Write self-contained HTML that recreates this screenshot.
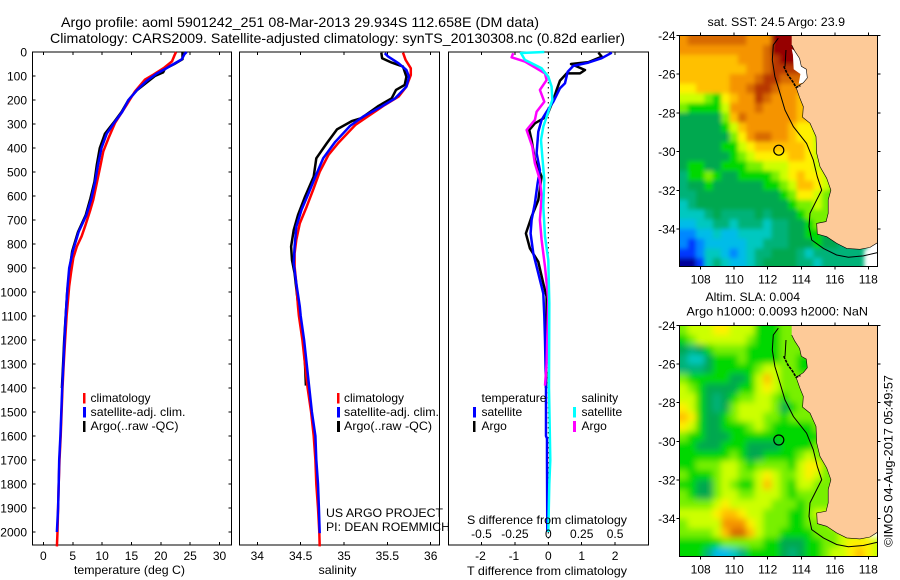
<!DOCTYPE html>
<html>
<head>
<meta charset="utf-8">
<title>Argo profile</title>
<style>
html,body{margin:0;padding:0;background:#fff;}
svg{display:block;}
text{font-family:"Liberation Sans",sans-serif;font-size:12px;fill:#000;}
.t14{font-size:14px;}
</style>
</head>
<body>
<svg id="chart" xmlns="http://www.w3.org/2000/svg" width="900" height="580" viewBox="0 0 900 580">
<defs>
<clipPath id="clip-sst"><rect x="679.3" y="35.3" width="198" height="231"/></clipPath>
<clipPath id="clip-sla"><rect x="679.3" y="325.3" width="198" height="231.4"/></clipPath>
<filter id="blur-sst" x="-10%" y="-10%" width="120%" height="120%"><feGaussianBlur stdDeviation="2.2"/></filter>
<filter id="blur-sla" x="-10%" y="-10%" width="120%" height="120%"><feGaussianBlur stdDeviation="3.2"/></filter>
</defs>
<text class="t14" x="61" y="27" textLength="478" lengthAdjust="spacingAndGlyphs">Argo profile: aoml 5901242_251 08-Mar-2013 29.934S 112.658E (DM data)</text>
<text class="t14" x="50" y="43" textLength="575" lengthAdjust="spacingAndGlyphs">Climatology: CARS2009. Satellite-adjusted climatology: synTS_20130308.nc (0.82d earlier)</text>

<g id="p1"></g>
<g id="p2"></g>
<g id="p3"></g>
<g id="m1"></g>
<g id="m2"></g>
<g id="labels"></g>

<text x="74" y="574" textLength="111" lengthAdjust="spacingAndGlyphs">temperature (deg C)</text>
<text x="318.5" y="574" textLength="38" lengthAdjust="spacingAndGlyphs">salinity</text>
<text x="467" y="575" textLength="160" lengthAdjust="spacingAndGlyphs">T difference from climatology</text>
<text x="467" y="524" textLength="160" lengthAdjust="spacingAndGlyphs">S difference from climatology</text>

<g>
<rect x="83" y="393" width="2.5" height="10.5" fill="#f00"/>
<rect x="83" y="407" width="3" height="10.5" fill="#00f"/>
<rect x="83" y="421" width="2.5" height="11" fill="#000"/>
<text x="90.5" y="402">climatology</text>
<text x="90.5" y="416" textLength="95" lengthAdjust="spacingAndGlyphs">satellite-adj. clim.</text>
<text x="90.5" y="430" textLength="88" lengthAdjust="spacingAndGlyphs">Argo(..raw -QC)</text>
</g>
<g>
<rect x="337" y="393" width="2.5" height="10.5" fill="#f00"/>
<rect x="337" y="407" width="3" height="10.5" fill="#00f"/>
<rect x="337" y="421" width="3" height="11" fill="#000"/>
<text x="344" y="402">climatology</text>
<text x="344" y="416" textLength="95" lengthAdjust="spacingAndGlyphs">satellite-adj. clim.</text>
<text x="344" y="430" textLength="88" lengthAdjust="spacingAndGlyphs">Argo(..raw -QC)</text>
</g>
<g>
<text x="481.5" y="402" textLength="65" lengthAdjust="spacingAndGlyphs">temperature</text>
<text x="581.5" y="402">salinity</text>
<rect x="473" y="407" width="3" height="10.5" fill="#00f"/>
<rect x="473" y="421" width="2.5" height="11" fill="#000"/>
<rect x="573" y="407" width="3" height="10.5" fill="#0ff"/>
<rect x="573" y="421" width="3" height="11" fill="#f0f"/>
<text x="481.5" y="416">satellite</text>
<text x="481.5" y="430">Argo</text>
<text x="581.5" y="416">satellite</text>
<text x="581.5" y="430">Argo</text>
</g>
<text x="326" y="517" textLength="117" lengthAdjust="spacingAndGlyphs">US ARGO PROJECT</text>
<text x="326" y="531" textLength="124" lengthAdjust="spacingAndGlyphs">PI: DEAN ROEMMICH</text>
<text x="707.5" y="26" textLength="137.5" lengthAdjust="spacingAndGlyphs">sat. SST: 24.5 Argo: 23.9</text>
<text x="705.5" y="301" textLength="94.5" lengthAdjust="spacingAndGlyphs">Altim. SLA: 0.004</text>
<text x="686.5" y="315.5" textLength="181.5" lengthAdjust="spacingAndGlyphs">Argo h1000: 0.0093 h2000: NaN</text>
<text transform="translate(892.5 547) rotate(-90)" x="0" y="0" textLength="172" lengthAdjust="spacingAndGlyphs">©IMOS 04-Aug-2017 05:49:57</text>
</svg>

<script>
// ---------- profile data ----------
const tempClimDepth = [0,10,39,67,94,115,164,219,296,358,414,476,546,615,657,726,768,810,858,920,976,1100,1200,1300,1400,1500,1600,1700,1800,1900,2000,2060];
const tempClim = [22.6,22.4,21.9,20.5,18.75,17.3,15.6,14.2,12.2,11.1,10.2,9.7,9.1,8.5,8.0,7.1,6.5,5.7,5.1,4.7,4.4,3.95,3.7,3.45,3.25,3.1,2.95,2.75,2.6,2.5,2.4,2.3];
const tempSatDepth = [0,10,30,50,67,90,120,160,200,250,290,340,400,470,540,610,680,750,830,900,980,1100,1200,1300,1400,1500,1600,1700,1800,1900,2000];
const tempSat = [24.4,24,23.6,22.2,21,19.3,17.6,15.9,14.5,13.4,12.2,10.8,9.9,9.3,8.8,8.2,7.3,6,5,4.4,4.1,3.8,3.6,3.4,3.2,3.05,2.9,2.7,2.6,2.5,2.3];
const tempArgoDepth = [0,10,30,50,70,85,100,160,200,250,290,340,400,470,540,610,680,750,830,900,1000,1100,1200,1300,1400];
const tempArgo = [23.7,23.7,23.7,22.3,20.7,20.4,19,15.9,14.5,13.3,12.1,10.5,9.6,9.1,8.7,8.0,7.2,5.9,4.9,4.5,4.05,3.8,3.55,3.35,3.15];

const salClimDepth = [3,33,68,96,144,186,221,267,304,381,429,499,568,644,714,783,839,894,964,1061,1100,1200,1300,1400,1500,1600,1700,1800,1900,2000,2060];
const salClim = [35.68,35.71,35.77,35.77,35.72,35.63,35.47,35.28,35.13,34.93,34.82,34.72,34.65,34.57,34.49,34.45,34.43,34.43,34.45,34.47,34.48,34.52,34.55,34.58,34.62,34.65,34.67,34.68,34.70,34.715,34.72];
const salSatDepth = [5,19,47,75,103,144,193,228,269,308,374,443,519,589,658,728,811,881,964,1061,1100,1200,1300,1400,1500,1600,1700,1800,1900,2005];
const salSat = [35.47,35.51,35.63,35.72,35.75,35.72,35.59,35.43,35.22,35.07,34.9,34.76,34.67,34.59,34.51,34.45,34.43,34.42,34.45,34.49,34.5,34.54,34.57,34.6,34.63,34.67,34.68,34.7,34.71,34.72];
const salArgoDepth = [3,26,44,61,103,137,158,193,224,276,288,322,381,443,519,603,679,742,811,867,922,1047,1100,1200,1300,1390];
const salArgo = [35.43,35.44,35.55,35.68,35.72,35.70,35.6,35.55,35.40,35.2,35.09,34.92,34.8,34.68,34.65,34.55,34.47,34.42,34.39,34.40,34.43,34.47,34.49,34.53,34.55,34.56];

const dTSatDepth = [3,26,44,58,82,130,151,207,249,283,332,422,492,547,630,700,756,839,922,1006,1100,1200,1400,1600,1610,1700,2000];
const dTSat = [1.9,1.6,1.2,0.75,0.58,0.5,0.35,0.15,-0.05,-0.2,-0.3,-0.35,-0.25,-0.32,-0.4,-0.5,-0.53,-0.45,-0.3,-0.15,-0.12,-0.1,-0.07,-0.07,-0.04,-0.04,-0.03];
const dTArgoDepth = [3,19,42,50,75,89,89,119,158,200,269,297,325,367,450,519,617,686,756,818,874,964,1019,1200,1400];
const dTArgo = [1.5,1.6,1.2,0.68,1.1,0.95,0.55,0.35,0.25,0.15,-0.05,-0.4,-0.57,-0.5,-0.4,-0.2,-0.3,-0.5,-0.67,-0.55,-0.3,-0.15,-0.05,-0.05,-0.07];
const dSSatDepth = [0,4,33,68,103,144,200,249,311,367,436,533,644,769,867,1047,1400,1700,1800,2000];
const dSSat = [-0.03,-0.205,-0.175,-0.05,0,0.025,0.03,0,-0.0375,-0.055,-0.045,-0.03,-0.0375,-0.025,0,0.0075,0.005,0.015,0.0075,0];
const dSArgoDepth = [5,22,40,64,89,117,158,207,249,283,325,394,464,533,603,700,783,894,1033,1300,1390];
const dSArgo = [-0.2625,-0.275,-0.175,-0.1,-0.025,-0.0125,-0.0625,-0.03,-0.0875,-0.1,-0.1625,-0.12,-0.1,-0.0625,-0.05,-0.0625,-0.05,-0.025,0,-0.0125,-0.025];

// ---------- tick labels ----------
const depthTicks = [0,100,200,300,400,500,600,700,800,900,1000,1100,1200,1300,1400,1500,1600,1700,1800,1900,2000];
const tempTicks = [0,5,10,15,20,25,30];
const salTicks = [34,34.5,35,35.5,36];
const dTTicks = [-2,-1,0,1,2];
const dSTicks = [-0.5,-0.25,0,0.25,0.5];
const lonTicks = [108,110,112,114,116,118];
const latTicks = [24,26,28,30,32,34];

// ---------- map data (colour level per half-degree cell, null = no data) ----------
const sstGrid = [
[12,13,13,13,13,13,13,13,12,12,12,15,15,15],
[12,12,12,12,12,12,12,12,12,12,13,15,15,15,15],
[11,11,11,11,11,11,11,12,12,12,13,14,15,15,15],
[11,11,11,11,11,11,11,11,12,12,13,14,14,14],
[11,11,11,11,11,11,12,12,12,13,14,14,13,13],
[10,10,11,11,11,11,12,12,13,14,14,13,12,12,12],
[9,9,9,8,7,10,11,12,12,14,13,12,12,12,11],
[8,7,7,7,7,9,12,12,12,13,12,12,12,12,11,11],
[6,6,6,6,6,8,11,13,12,12,12,12,12,12,11,11],
[6,6,6,6,6,7,9,11,12,12,12,12,12,11,10,10,9],
[6,6,6,6,6,6,8,10,12,13,13,12,12,11,10,10,9],
[6,6,6,6,6,7,7,9,10,11,11,11,11,11,11,10,9],
[6,6,6,6,6,6,7,8,9,10,10,10,10,11,11,10,9,9],
[6,7,7,6,6,7,7,7,8,8,9,9,9,10,10,10,9,9],
[5,7,7,8,7,6,6,7,7,7,7,8,9,10,11,10,10,9,8],
[5,6,6,7,6,6,6,6,6,6,7,7,8,9,11,11,10,9,8],
[5,5,6,6,6,6,6,6,6,6,6,6,7,8,10,10,9,8,7],
[4,5,6,6,6,6,6,6,6,6,6,6,6,7,8,8,9,8,7],
[4,4,4,5,6,5,5,5,5,6,5,6,6,6,7,8,8,8,8],
[3,3,4,4,5,5,4,5,5,5,4,5,5,6,6,7,8,8],
[2,2,3,3,4,3,3,4,4,4,4,5,5,6,6,7,7,6,6],
[2,1,2,3,3,3,3,3,4,4,5,5,5,6,6,6,7,6,6,5,5],
[1,1,2,4,4,3,2,3,4,5,5,6,6,6,5,4,5,5,5,5,5,5,null,null],
[0,0,1,4,5,4,3,3,4,5,6,6,6,6,5,5,4,5,5,5,5,5,null,null]
];
const slaGrid = [
[8,9,9,9,10,10,9,9,9,7,7,7,8,8],
[7,8,9,9,9,9,9,9,8,7,7,7,8,8,8],
[6,5,6,7,8,8,8,8,7,7,7,7,8,8,8],
[5,4,4,6,7,7,7,8,7,7,7,7,8,8,7,7],
[5,5,5,6,7,7,7,7,7,8,9,9,8,8,7,7],
[8,7,7,7,7,7,6,6,7,9,11,9,8,8,8],
[9,8,7,6,6,6,6,7,7,9,10,9,8,8,8,8],
[9,9,7,6,5,6,7,8,8,9,9,8,7,8,8,8],
[10,9,7,6,5,6,8,9,9,9,9,8,6,7,8,8,8],
[11,10,7,6,6,7,8,9,9,9,8,8,7,8,8,8,8],
[10,9,7,6,6,7,7,7,8,9,8,7,7,7,7,7,8],
[8,7,7,6,6,6,7,7,7,7,7,7,7,7,7,7,7],
[7,7,6,6,6,7,7,7,6,6,6,6,7,7,7,7,8,8],
[7,7,7,7,7,7,8,7,6,6,7,7,7,7,8,9,8,8],
[7,7,8,8,8,9,9,8,7,8,8,8,8,7,9,10,10,8,8],
[8,7,7,7,8,9,9,8,8,9,10,9,8,8,9,10,9,8,8],
[7,7,6,6,8,9,8,7,7,9,11,9,8,7,9,9,8,8,8],
[8,7,6,6,8,9,9,8,8,9,9,9,8,7,8,8,8,8,8],
[8,8,8,8,9,10,9,9,9,9,9,8,8,8,7,8,8,8,8],
[9,9,9,9,10,11,11,10,9,9,8,8,8,7,7,8,9,9],
[8,9,9,9,9,12,12,12,10,9,8,8,8,7,7,8,8,8,9,9],
[8,8,8,8,9,11,13,13,11,9,8,8,7,7,7,7,8,8,8,9,9],
[7,7,7,7,7,8,8,8,8,8,7,7,6,6,6,7,7,8,8,9,10,10,10,9],
[7,7,7,5,3,3,4,5,7,7,7,7,6,5,6,7,7,8,9,9,10,11,10,9]
];
const coastLon = [113.43,113.43,113.6,113.9,114.0,114.3,114.36,114.12,113.69,113.92,114.12,114.08,114.52,114.88,114.92,115.12,115.52,115.77,115.61,115.61,115.48,114.92,114.96,115.52,116.11,116.71,117.5,118.1,118.54,118.54];
const coastLat = [24,24.5,24.8,25.2,25.6,25.75,26.2,26.45,26.69,27.25,27.68,28.23,28.54,29.23,30.09,30.78,31.38,31.99,32.5,33.19,33.62,33.71,34.26,34.4,34.74,35.0,35.05,34.95,34.71,24];
const bathyLon = [112.63,112.33,112.27,112.43,112.73,113.03,113.53,114.32,114.72,114.96,115.22,114.92,114.52,114.46,114.62,115.32,116.11,116.81,117.7,118.54];
const bathyLat = [24.15,24.5,25.27,26.13,26.99,27.86,28.72,29.58,30.44,31.3,31.99,32.5,33.19,33.88,34.57,35.0,35.34,35.46,35.39,35.22];
const bayLon = [113.43,113.6,113.9,114.0,114.3,114.36,114.12,113.85,113.95,113.55,113.5];
const bayLat = [24.7,24.8,25.2,25.6,25.75,26.2,26.45,26.5,26.0,25.75,25.0];
const islandLon = [112.95,113.2,113.5,113.69,113.95];
const islandLat = [25.6,26.05,26.4,26.69,26.6];
const sharkLon = [113.09,113.03];
const sharkLat = [24.76,25.62];
const argoLon = 112.658;
const argoLat = 29.934;

// ---------- axes ----------
const top0 = 52, bot0 = 545;
function depthY(d){ return 52 + d*0.24; }
function tempX(v){ return 43.4 + v*5.87; }
function salX(v){ return 257.3 + (v-34)*86.7; }
function dTX(v){ return 548.3 + v*33.4; }
function dSX(v){ return 548.3 + v*133.6; }
function lonX(v){ return 700.7 + (v-108)*16.76; }
function latYTop(v){ return 35.3 + (v-24)*19.37; }
function latYBot(v){ return 325.3 + (v-24)*19.33; }

const NS = 'http://www.w3.org/2000/svg';
function mk(tag, parent){ const e = document.createElementNS(NS, tag); parent.appendChild(e); return e; }
function setAll(e, props){ for (const k in props) e.setAttribute(k, props[k]); }

function drawFrame(g, x0, x1, y0, y1){
  const r = mk('rect', g);
  
  
  setAll(r, {x:x0, y:y0, width:x1-x0, height:y1-y0, fill:'#fff', stroke:'#000', 'stroke-width':1, 'shape-rendering':'crispEdges'});
}
function tick(g, x1, y1, x2, y2){
  const l = mk('line', g);
  
  
  setAll(l, {x1:x1, y1:y1, x2:x2, y2:y2, stroke:'#000', 'stroke-width':1, 'shape-rendering':'crispEdges'});
}
function label(x, y, str, anchor){
  const t = mk('text', document.getElementById('labels'));
  
  
  setAll(t, {x:x, y:y, 'text-anchor':anchor});
  t.textContent = str;
}
function drawLine(g, name, depths, vals, xf, color, w){
  const p = mk('polyline', g);
  
  
  const pts = depths.map(function(d, i){ return xf(vals[i]).toFixed(1) + ',' + depthY(d).toFixed(1); }).join(' ');
  setAll(p, {points:pts, fill:'none', stroke:color, 'stroke-width':w, 'stroke-linejoin':'round'});
}

// panel 1
const p1 = document.getElementById('p1');
drawFrame(p1, 32.5, 231.5, top0, bot0);
tempTicks.forEach(function(v){
  tick(p1, tempX(v), top0, tempX(v), top0+3);
  tick(p1, tempX(v), bot0, tempX(v), bot0-3);
  label(tempX(v), 560, String(v), 'middle');
});
depthTicks.forEach(function(d){
  tick(p1, 32.5, depthY(d), 35.5, depthY(d));
  tick(p1, 231.5, depthY(d), 228.5, depthY(d));
  label(27, depthY(d)+4.5, String(d), 'end');
});
drawLine(p1, 'temperature-argo-line', tempArgoDepth, tempArgo, tempX, '#000', 2.5);
drawLine(p1, 'temperature-climatology-line', tempClimDepth, tempClim, tempX, '#f00', 2.5);
drawLine(p1, 'temperature-satellite-line', tempSatDepth, tempSat, tempX, '#00f', 2.5);

// panel 2
const p2 = document.getElementById('p2');
drawFrame(p2, 239.5, 439.5, top0, bot0);
salTicks.forEach(function(v){
  tick(p2, salX(v), top0, salX(v), top0+3);
  tick(p2, salX(v), bot0, salX(v), bot0-3);
  label(salX(v), 560, String(v), 'middle');
});
drawLine(p2, 'salinity-argo-line', salArgoDepth, salArgo, salX, '#000', 2.5);
drawLine(p2, 'salinity-climatology-line', salClimDepth, salClim, salX, '#f00', 2.5);
drawLine(p2, 'salinity-satellite-line', salSatDepth, salSat, salX, '#00f', 2.5);

// panel 3
const p3 = document.getElementById('p3');
drawFrame(p3, 448.5, 648.5, top0, bot0);
dTTicks.forEach(function(v){
  tick(p3, dTX(v), top0, dTX(v), top0+3);
  tick(p3, dTX(v), bot0, dTX(v), bot0-3);
  label(dTX(v)-(v<0?1:0), 560, String(v), 'middle');
});
dSTicks.forEach(function(v){
  label(dSX(v), 538, String(v), 'middle');
});
const zero = mk('line', p3);


setAll(zero, {x1:dTX(0), x2:dTX(0), y1:top0, y2:bot0, stroke:'#000', 'stroke-width':1, 'stroke-dasharray':'1.5 3.5'});
drawLine(p3, 't-difference-argo-line', dTArgoDepth, dTArgo, dTX, '#000', 2.5);
drawLine(p3, 't-difference-satellite-line', dTSatDepth, dTSat, dTX, '#00f', 2.5);
drawLine(p3, 's-difference-argo-line', dSArgoDepth, dSArgo, dSX, '#f0f', 2.5);
drawLine(p3, 's-difference-satellite-line', dSSatDepth, dSSat, dSX, '#0ff', 2.5);

// maps
const palette = ['#00009a','#0038ff','#0088ff','#00bce8','#00c8c0','#00b278','#00a850','#00d800','#78f000','#ccff00','#fff000','#ffc000','#f59400','#d86a00','#b83800','#960000'];
const landColor = '#fdca98';
const cellBleed = 12;

function polyPts(lons, lats, latY){
  return lons.map(function(v, i){ return lonX(v).toFixed(1) + ',' + latY(lats[i]).toFixed(1); }).join(' ');
}
function drawMap(gid, clipId, blurId, grid, latY, showBay, y0, y1){
  const g = document.getElementById(gid);
  const x0 = 679.3, x1 = 877.3, lon0 = 106.72;
  const clip = mk('g', g);
  
  
  clip.setAttribute('clip-path', 'url(#' + clipId + ')');
  const bg = mk('rect', clip);
  
  
  setAll(bg, {x:x0, y:y0, width:x1-x0, height:y1-y0, fill:'#fff'});
  const cells = mk('g', clip);
  
  
  cells.setAttribute('filter', 'url(#' + blurId + ')');
  grid.forEach(function(row, j){
    row.forEach(function(v, i){
      if (v === null) return;
      const c = mk('rect', cells);
      
      
      let xa = lonX(lon0 + i*0.5), xb = lonX(lon0 + (i+1)*0.5);
      let ya = latY(24 + j*0.5), yb = latY(24 + (j+1)*0.5);
      if (i === 0) xa -= cellBleed;
      if (i === row.length-1) xb += cellBleed;
      if (j === 0) ya -= cellBleed;
      if (j === grid.length-1) yb += cellBleed;
      setAll(c, {x:xa.toFixed(1), y:ya.toFixed(1), width:(xb-xa+0.5).toFixed(1), height:(yb-ya+0.5).toFixed(1), fill:palette[v], 'data-level':v});
    });
  });
  const land = mk('polygon', clip);
  
  
  setAll(land, {points:polyPts(coastLon, coastLat, latY), fill:landColor});
  if (showBay) {
    const bay = mk('polygon', clip);
    
    
    setAll(bay, {points:polyPts(bayLon, bayLat, latY), fill:'#fff'});
  }
  const coastEdge = mk('polyline', clip);
  
  
  setAll(coastEdge, {points:polyPts(coastLon.slice(1, 29), coastLat.slice(1, 29), latY), fill:'none', stroke:'#000', 'stroke-width':0.6});
  const isl = mk('polyline', clip);
  
  
  setAll(isl, {points:polyPts(islandLon, islandLat, latY), fill:'none', stroke:'#000', 'stroke-width':1.6, 'stroke-dasharray':'3 1'});
  const shark = mk('polyline', clip);
  
  
  setAll(shark, {points:polyPts(sharkLon, sharkLat, latY), fill:'none', stroke:'#000', 'stroke-width':1});
  const bathy = mk('polyline', clip);
  
  
  setAll(bathy, {points:polyPts(bathyLon, bathyLat, latY), fill:'none', stroke:'#000', 'stroke-width':1});
  const ring = mk('circle', g);
  
  
  setAll(ring, {cx:lonX(argoLon).toFixed(1), cy:latY(argoLat).toFixed(1), r:5, fill:'none', stroke:'#000', 'stroke-width':1.2});
  const fr = mk('rect', g);
  
  
  setAll(fr, {x:x0, y:y0, width:x1-x0, height:y1-y0, fill:'none', stroke:'#000', 'stroke-width':1, 'shape-rendering':'crispEdges'});
  lonTicks.forEach(function(v){
    tick(g, lonX(v), y0, lonX(v), y0-3);
    tick(g, lonX(v), y1, lonX(v), y1+3);
    label(lonX(v), y1+17, String(v), 'middle');
  });
  latTicks.forEach(function(v){
    tick(g, x0, latY(v), x0-3, latY(v));
    tick(g, x1, latY(v), x1+3, latY(v));
    label(675.5, latY(v)+4.5, '-' + v, 'end');
  });
}
drawMap('m1', 'clip-sst', 'blur-sst', sstGrid, latYTop, true, 35.5, 266.5);
drawMap('m2', 'clip-sla', 'blur-sla', slaGrid, latYBot, false, 325.5, 556.5);
</script>
</body>
</html>
